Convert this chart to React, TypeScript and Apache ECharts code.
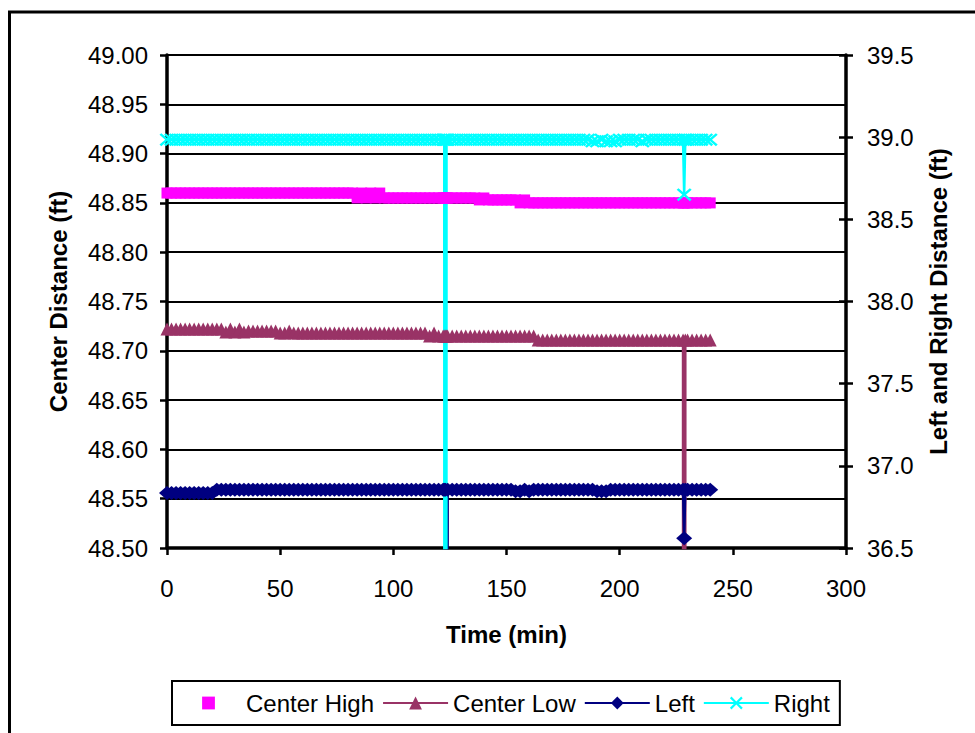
import React, { useEffect, useRef } from "react";
import * as echarts from "echarts";

// Sample times (min)
const TIME_MIN = [
  0, 2, 4, 6, 8, 10, 12, 14, 16, 18,
  20, 22, 24, 26, 28, 30, 32, 34, 36, 38,
  40, 42, 44, 46, 48, 50, 52, 54, 56, 58,
  60, 62, 64, 66, 68, 70, 72, 74, 76, 78,
  80, 82, 84, 86, 88, 90, 92, 94, 96, 98,
  100, 102, 104, 106, 108, 110, 112, 114, 116, 118,
  120, 122, 122.5, 123, 123.5, 124, 126, 128, 130, 132,
  134, 136, 138, 140, 142, 144, 146, 148, 150, 152,
  154, 156, 158, 160, 162, 164, 166, 168, 170, 172,
  174, 176, 178, 180, 182, 184, 186, 188, 190, 192,
  194, 196, 198, 200, 202, 204, 206, 208, 210, 212,
  214, 216, 218, 220, 222, 224, 226, 228, 228.5, 229,
  230, 232, 234, 236, 238, 240,
];

// Center distances (ft), left axis
const CENTER_HIGH_FT = [
  48.86, 48.86, 48.86, 48.86, 48.86, 48.86, 48.86, 48.86, 48.86, 48.86,
  48.86, 48.86, 48.86, 48.86, 48.86, 48.86, 48.86, 48.86, 48.86, 48.86,
  48.86, 48.86, 48.86, 48.86, 48.86, 48.86, 48.86, 48.86, 48.86, 48.86,
  48.86, 48.86, 48.86, 48.86, 48.86, 48.86, 48.86, 48.86, 48.86, 48.86,
  48.86, 48.86, 48.855, 48.86, 48.855, 48.86, 48.855, 48.86, 48.855, 48.855,
  48.855, 48.855, 48.855, 48.855, 48.855, 48.855, 48.855, 48.855, 48.855, 48.855,
  48.855, 48.855, 48.855, 48.855, 48.855, 48.855, 48.855, 48.855, 48.855, 48.855,
  48.855, 48.855, 48.853, 48.855, 48.853, 48.853, 48.853, 48.853, 48.853, 48.853,
  48.853, 48.85, 48.853, 48.85, 48.85, 48.85, 48.85, 48.85, 48.85, 48.85,
  48.85, 48.85, 48.85, 48.85, 48.85, 48.85, 48.85, 48.85, 48.85, 48.85,
  48.85, 48.85, 48.85, 48.85, 48.85, 48.85, 48.85, 48.85, 48.85, 48.85,
  48.85, 48.85, 48.85, 48.85, 48.85, 48.85, 48.85, 48.85, 48.85, 48.85,
  48.85, 48.85, 48.85, 48.85, 48.85, 48.85,
];

const CENTER_LOW_FT = [
  48.722, 48.722, 48.722, 48.722, 48.722, 48.722, 48.722, 48.722, 48.722, 48.722,
  48.722, 48.722, 48.722, 48.719, 48.722, 48.719, 48.722, 48.719, 48.72, 48.72,
  48.72, 48.72, 48.72, 48.72, 48.72, 48.718, 48.718, 48.72, 48.718, 48.718,
  48.718, 48.718, 48.718, 48.718, 48.718, 48.718, 48.718, 48.718, 48.718, 48.718,
  48.718, 48.718, 48.718, 48.718, 48.718, 48.718, 48.718, 48.718, 48.718, 48.718,
  48.718, 48.718, 48.718, 48.718, 48.718, 48.718, 48.718, 48.718, 48.715, 48.718,
  48.715, 48.715, 48.715, 48.715, 48.715, 48.715, 48.715, 48.715, 48.715, 48.715,
  48.715, 48.715, 48.715, 48.715, 48.715, 48.715, 48.715, 48.715, 48.715, 48.715,
  48.715, 48.715, 48.715, 48.715, 48.715, 48.711, 48.711, 48.711, 48.711, 48.711,
  48.711, 48.711, 48.711, 48.711, 48.711, 48.711, 48.711, 48.711, 48.711, 48.711,
  48.711, 48.711, 48.711, 48.711, 48.711, 48.711, 48.711, 48.711, 48.711, 48.711,
  48.711, 48.711, 48.711, 48.711, 48.711, 48.711, 48.711, 48.711, 0, 48.711,
  48.711, 48.711, 48.711, 48.711, 48.711, 48.711,
];

// Left / right distances (ft), right axis
const LEFT_FT = [
  36.835, 36.835, 36.835, 36.835, 36.835, 36.835, 36.835, 36.835, 36.835, 36.835,
  36.835, 36.855, 36.855, 36.855, 36.855, 36.855, 36.855, 36.855, 36.855, 36.855,
  36.855, 36.855, 36.855, 36.855, 36.855, 36.855, 36.855, 36.855, 36.855, 36.855,
  36.855, 36.855, 36.855, 36.855, 36.855, 36.855, 36.855, 36.855, 36.855, 36.855,
  36.855, 36.855, 36.855, 36.855, 36.855, 36.855, 36.855, 36.855, 36.855, 36.855,
  36.855, 36.855, 36.855, 36.855, 36.855, 36.855, 36.855, 36.855, 36.855, 36.855,
  36.855, 36.855, 36.855, 36.855, 0, 36.855, 36.855, 36.855, 36.855, 36.855,
  36.855, 36.855, 36.855, 36.855, 36.855, 36.855, 36.855, 36.855, 36.855, 36.855,
  36.845, 36.845, 36.855, 36.845, 36.855, 36.855, 36.855, 36.855, 36.855, 36.855,
  36.855, 36.855, 36.855, 36.855, 36.855, 36.855, 36.855, 36.855, 36.845, 36.845,
  36.845, 36.855, 36.855, 36.855, 36.855, 36.855, 36.855, 36.855, 36.855, 36.855,
  36.855, 36.855, 36.855, 36.855, 36.855, 36.855, 36.855, 36.855, 36.56, 36.855,
  36.855, 36.855, 36.855, 36.855, 36.855, 36.855,
];

const RIGHT_FT = [
  38.985, 38.985, 38.985, 38.985, 38.985, 38.985, 38.985, 38.985, 38.985, 38.985,
  38.985, 38.985, 38.985, 38.985, 38.985, 38.985, 38.985, 38.985, 38.985, 38.985,
  38.985, 38.985, 38.985, 38.985, 38.985, 38.985, 38.985, 38.985, 38.985, 38.985,
  38.985, 38.985, 38.985, 38.985, 38.985, 38.985, 38.985, 38.985, 38.985, 38.985,
  38.985, 38.985, 38.985, 38.985, 38.985, 38.985, 38.985, 38.985, 38.985, 38.985,
  38.985, 38.985, 38.985, 38.985, 38.985, 38.985, 38.985, 38.985, 38.985, 38.985,
  38.985, 38.985, 38.985, 0, 38.985, 38.985, 38.985, 38.985, 38.985, 38.985,
  38.985, 38.985, 38.985, 38.985, 38.985, 38.985, 38.985, 38.985, 38.985, 38.985,
  38.985, 38.985, 38.985, 38.985, 38.985, 38.985, 38.985, 38.985, 38.985, 38.985,
  38.985, 38.985, 38.985, 38.985, 38.985, 38.985, 38.985, 38.975, 38.975, 38.985,
  38.975, 38.975, 38.975, 38.985, 38.985, 38.985, 38.985, 38.985, 38.975, 38.985,
  38.985, 38.985, 38.985, 38.985, 38.985, 38.985, 38.985, 38.985, 38.65, 38.985,
  38.985, 38.985, 38.985, 38.985, 38.985, 38.985,
];

const SERIES_NAMES = ["Center High", "Center Low", "Left", "Right"];

const FONT = "Liberation Sans, Arial, sans-serif";
const CROSS_MARK =
  "path://M0,1.2L1.2,0L5,3.8L8.8,0L10,1.2L6.2,5L10,8.8L8.8,10L5,6.2L1.2,10L0,8.8L3.8,5Z";

const pairs = (values: number[]) => TIME_MIN.map((t, i) => [t, values[i]]);

export default function App() {
  const ref = useRef<HTMLDivElement>(null);

  useEffect(() => {
    if (!ref.current) return;
    const chart = echarts.init(ref.current, null, { renderer: "svg" });

    const axisLine = { show: true, lineStyle: { color: "#000", width: 3.5 } };
    const axisTick = { show: true, length: 7, lineStyle: { color: "#000", width: 2.5 } };
    const labelStyle = { color: "#000", fontSize: 24, fontFamily: FONT };
    const nameStyle = { color: "#000", fontSize: 24, fontWeight: "bold" as const, fontFamily: FONT };

    chart.setOption({
      animation: false,
      backgroundColor: "#fff",
      textStyle: { fontFamily: FONT },
      graphic: [
        {
          type: "rect",
          silent: true,
          shape: { x: 9.5, y: 12, width: 1100, height: 900 },
          style: { fill: "none", stroke: "#000", lineWidth: 3 },
        },
      ],
      grid: { left: 167, right: 129, top: 55, bottom: 185, containLabel: false },
      legend: {
        data: SERIES_NAMES,
        left: 172,
        top: 681,
        orient: "horizontal",
        itemWidth: 65,
        itemHeight: 16,
        itemGap: 8,
        padding: [10, 10, 10, 4],
        borderColor: "#000",
        borderWidth: 2,
        backgroundColor: "#fff",
        textStyle: { color: "#000", fontSize: 24, fontFamily: FONT },
      },
      xAxis: {
        type: "value",
        min: 0,
        max: 300,
        interval: 50,
        name: "Time (min)",
        nameLocation: "middle",
        nameGap: 74,
        nameTextStyle: nameStyle,
        axisLine,
        axisTick,
        splitLine: { show: false },
        axisLabel: { ...labelStyle, margin: 28 },
      },
      yAxis: [
        {
          type: "value",
          position: "left",
          min: 48.5,
          max: 49.0,
          interval: 0.05,
          name: "Center Distance (ft)",
          nameLocation: "middle",
          nameGap: 97,
          nameTextStyle: nameStyle,
          axisLine,
          axisTick,
          splitLine: { show: true, lineStyle: { color: "#000", width: 2 } },
          axisLabel: { ...labelStyle, margin: 19, formatter: (v: number) => v.toFixed(2) },
        },
        {
          type: "value",
          position: "right",
          min: 36.5,
          max: 39.5,
          interval: 0.5,
          name: "Left and Right Distance (ft)",
          nameLocation: "middle",
          nameGap: 80,
          nameTextStyle: nameStyle,
          axisLine,
          axisTick,
          splitLine: { show: false },
          axisLabel: { ...labelStyle, margin: 21, formatter: (v: number) => v.toFixed(1) },
        },
        {
          // inner half of the crossing ticks on the right axis
          type: "value",
          position: "right",
          min: 36.5,
          max: 39.5,
          interval: 0.5,
          axisLine: { show: false },
          axisTick: { show: true, inside: true, length: 7, lineStyle: { color: "#000", width: 2.5 } },
          axisLabel: { show: false },
          splitLine: { show: false },
        },
      ],
      series: [
        {
          name: "Center High",
          type: "line",
          yAxisIndex: 0,
          data: pairs(CENTER_HIGH_FT),
          symbol: "rect",
          symbolSize: 11,
          lineStyle: { opacity: 0, width: 0 },
          itemStyle: { color: "#ff00ff", borderWidth: 0 },
        },
        {
          name: "Center Low",
          type: "line",
          yAxisIndex: 0,
          data: pairs(CENTER_LOW_FT),
          symbol: "triangle",
          symbolSize: 13,
          lineStyle: { color: "#993366", width: 2.5 },
          itemStyle: { color: "#993366", borderWidth: 0 },
        },
        {
          name: "Left",
          type: "line",
          yAxisIndex: 1,
          data: pairs(LEFT_FT),
          symbol: "diamond",
          symbolSize: [16, 14],
          lineStyle: { color: "#000080", width: 2.5 },
          itemStyle: { color: "#000080", borderWidth: 0 },
        },
        {
          name: "Right",
          type: "line",
          yAxisIndex: 1,
          data: pairs(RIGHT_FT),
          symbol: CROSS_MARK,
          symbolSize: [15, 13],
          lineStyle: { color: "#00ffff", width: 2.5 },
          itemStyle: { color: "#00ffff", borderWidth: 0 },
        },
      ],
    });

    return () => chart.dispose();
  }, []);

  return (
    <div
      ref={ref}
      style={{ position: "fixed", left: 0, top: 0, width: 975, height: 733, background: "#fff" }}
    />
  );
}
